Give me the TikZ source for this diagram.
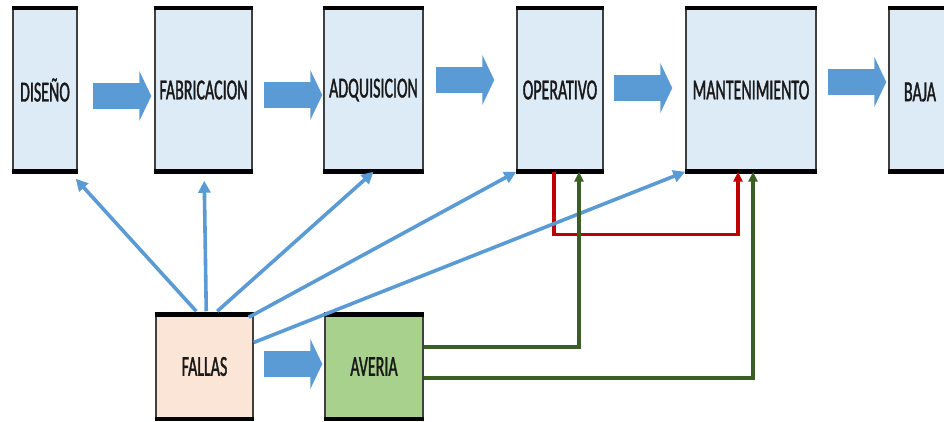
\documentclass[tikz,border=0pt]{standalone}
\usepackage{fontspec}
\setmainfont{Carlito}[FakeStretch=0.55, FakeBold=1.2]
\usetikzlibrary{calc, arrows.meta}
\definecolor{boxblue}{HTML}{DDEBF7}
\definecolor{arrowblue}{HTML}{5B9BD5}
\definecolor{peach}{HTML}{FBE5D6}
\definecolor{leaf}{HTML}{A9D18E}
\definecolor{darkleaf}{HTML}{3B5E24}
\definecolor{darkred}{HTML}{C00000}
\newcommand{\rims}[1]{
    % #1: node name
    \draw[rim] (#1.north west) -- (#1.north east);
    \draw[rim] (#1.south west) -- (#1.south east);
}

\begin{document}
\begin{tikzpicture}[x=1pt, y=-1pt]
    % stages of the life cycle
    \tikzstyle{stage}=[draw=black!75, line width=1.5pt, fill=boxblue, minimum height=162pt, inner sep=0, text=black!90, font=\fontsize{29}{33}\selectfont]
    % thick top and bottom edges
    \tikzstyle{rim}=[line width=4.5pt, black]
    \tikzstyle{bigarrow}=[arrowblue, line width=26pt, -{Triangle[length=12pt, width=50pt]}]
    \tikzstyle{ray}=[arrowblue, line width=3.6pt, -{Triangle[length=12pt, width=12pt]}]
    \tikzstyle{avline}=[darkleaf, line width=3.4pt, -{Triangle[length=10pt, width=9pt]}]
    \tikzstyle{repair}=[darkred, line width=3.4pt, -{Triangle[length=10pt, width=9pt]}]
    \useasboundingbox (0,0) rectangle (944,422);
    \clip (0,0) rectangle (944,422);
    % top row
    \node[stage, minimum width=64pt] (diseno) at (45,90) {DISEÑO};
    \node[stage, minimum width=97pt] (fabricacion) at (203.5,90) {FABRICACION};
    \node[stage, minimum width=99pt] (adquisicion) at (373.5,90) {ADQUISICION};
    \node[stage, minimum width=86pt] (operativo) at (560,90) {OPERATIVO};
    \node[stage, minimum width=130pt] (mantenimiento) at (751,90) {MANTENIMIENTO};
    \node[stage, minimum width=100pt] (baja) at (939,90) {};
    \node[inner sep=0, text=black!90, font=\fontsize{29}{33}\selectfont] (bajatext) at (920,92) {BAJA};
    % bottom row
    \node[stage, fill=peach, minimum width=97pt, minimum height=103pt] (fallas) at (204.5,366.5) {FALLAS};
    \node[stage, fill=leaf, minimum width=98pt, minimum height=103pt] (averia) at (374,366.5) {AVERIA};
    \rims{diseno}
    \rims{fabricacion}
    \rims{adquisicion}
    \rims{operativo}
    \rims{mantenimiento}
    \rims{baja}
    \rims{fallas}
    \rims{averia}
    % block arrows
    \draw[bigarrow] ($(diseno.east)+(15,6)$) -- ($(fabricacion.west)+(-3,6)$);
    \draw[bigarrow] ($(fabricacion.east)+(11,5)$) -- ($(adquisicion.west)+(-1,5)$);
    \draw[bigarrow] ($(adquisicion.east)+(12,-10)$) -- ($(operativo.west)+(-22,-10)$);
    \draw[bigarrow] ($(operativo.east)+(10,-2)$) -- ($(mantenimiento.west)+(-13,-2)$);
    \draw[bigarrow] ($(mantenimiento.east)+(11,-8)$) -- ($(baja.west)+(-2,-8)$);
    \draw[bigarrow] ($(fallas.east)+(10,-2.5)$) -- ($(averia.west)+(-2,-2.5)$);
    % repair loop
    \draw[repair] ($(operativo.south)+(-6,0)$) -- ++(0,63) -| ($(mantenimiento.south)+(-13,0)$);
    % failures reach every stage
    \draw[ray] ($(fallas.north west)+(41,-3)$) -- ($(diseno.south east)+(-2,7)$);
    \draw[ray] ($(fallas.north west)+(51,-3)$) -- ($(fabricacion.south west)+(50,9)$);
    \draw[ray] ($(fallas.north west)+(62,-3)$) -- (adquisicion.south);
    \draw[ray] ($(fallas.north east)+(-5,3)$) -- (operativo.south west);
    \draw[ray] ($(fallas.east)+(0,-24)$) -- (mantenimiento.south west);
    % breakdowns
    \draw[avline] ($(averia.east)+(0,-19.5)$) -| ($(operativo.south)+(19,0)$);
    \draw[avline] ($(averia.east)+(0,11.5)$) -| ($(mantenimiento.south)+(2,0)$);
\end{tikzpicture}
\end{document}
